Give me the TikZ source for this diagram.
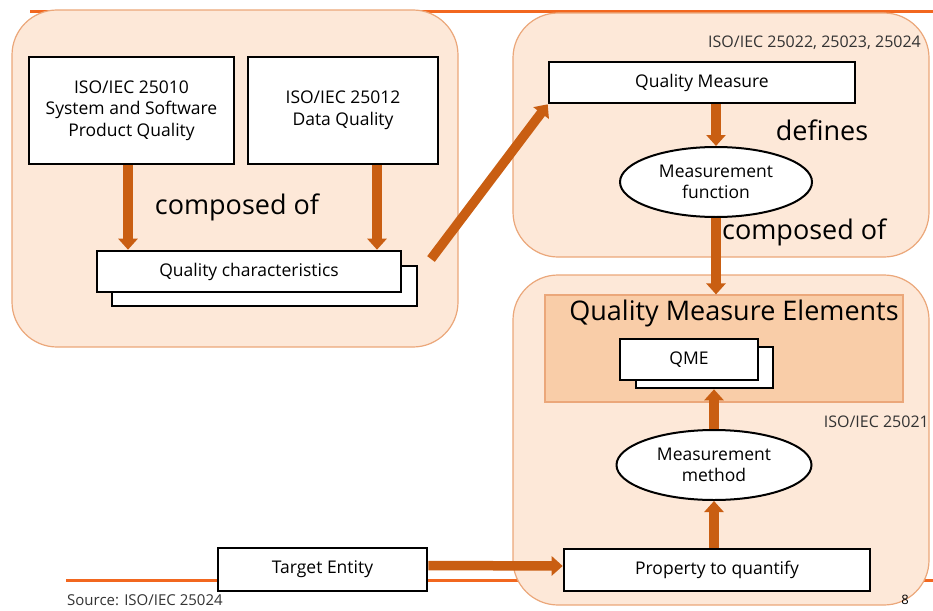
\documentclass[tikz,border=0pt]{standalone}
\usepackage{fontspec}
\setmainfont{Open Sans}
\usetikzlibrary{arrows.meta,shapes.geometric,calc}
\definecolor{peach}{HTML}{FDE8D8}
\definecolor{peachedge}{HTML}{EBA77A}
\definecolor{qmefill}{HTML}{F9CDA8}
\definecolor{lineorange}{HTML}{F2671F}
\definecolor{arroworange}{HTML}{C95E12}
\tikzset{
  bigbox/.style={draw=peachedge, line width=1.2pt, fill=peach, rounded corners=45pt, inner sep=0pt},
  wbox/.style={draw=black, line width=2.6pt, fill=white, inner sep=0pt, align=center, font=\fontsize{17.5}{21.5}\selectfont},
  ell/.style={ellipse, draw=black, line width=2pt, fill=white, inner sep=0pt, align=center, font=\fontsize{17.5}{21}\selectfont},
  bigarrow/.style={draw=arroworange, line width=9.5pt, -{Triangle[width=19pt,length=11pt]}},
  lbl/.style={font=\fontsize{27}{30}\selectfont, inner sep=0pt},
  small/.style={font=\fontsize{16}{18}\selectfont, inner sep=0pt, text=black!80}
}
\begin{document}
\begin{tikzpicture}[x=1pt,y=-1pt]
\useasboundingbox (0,0) rectangle (933,610);
% orange rule lines
\draw[lineorange, line width=3pt] (30,12) -- (933,12);
\draw[lineorange, line width=3pt] (66,580) -- (933,580);
% big rounded panels
\node[bigbox, minimum width=446pt, minimum height=337pt] (left) at (235,178.5) {};
\node[bigbox, minimum width=416pt, minimum height=244pt] (topr) at (721,135) {};
\node[bigbox, minimum width=416pt, minimum height=330pt] (botr) at (721,440) {};
\node[draw=peachedge, line width=1.2pt, fill=qmefill, minimum width=358pt, minimum height=107pt, inner sep=0pt] (qmearea) at (724,348.5) {};
% left panel
\node[wbox, minimum width=205pt, minimum height=107pt] (b25010) at (131.5,110.5) {ISO/IEC 25010\\System and Software\\Product Quality};
\node[wbox, minimum width=190pt, minimum height=107pt] (b25012) at (343,110.5) {ISO/IEC 25012\\Data Quality};
\node[wbox, minimum width=305pt, minimum height=40pt] (qcback) at (264.5,286) {};
\node[wbox, minimum width=304pt, minimum height=41pt] (qc) at (249,271.5) {Quality characteristics};
\node[lbl] (comp1) at (237,207) {composed of};
% top right panel
\node[small, anchor=east] (iso1) at (921,43) {ISO/IEC 25022, 25023, 25024};
\node[wbox, minimum width=306pt, minimum height=41pt] (qm) at (702,82.5) {Quality Measure};
\node[lbl] (defs) at (822,130) {defines};
\node[ell, minimum width=192pt, minimum height=70pt] (mf) at (716,182) {Measurement\\function};
\node[lbl, anchor=west] (comp2) at (722,232) {composed of};
% bottom right panel
\node[font=\fontsize{27}{30}\selectfont, inner sep=0pt] (qmet) at (734,313) {Quality Measure Elements};
\node[wbox, minimum width=137pt, minimum height=41pt] (qmeback) at (704.5,367.5) {};
\node[wbox, minimum width=138pt, minimum height=41pt] (qme) at (689,359.5) {QME};
\node[small, anchor=east] (iso2) at (929,422) {ISO/IEC 25021};
\node[ell, minimum width=195pt, minimum height=70pt] (mm) at (714,465) {Measurement\\method};
\node[wbox, minimum width=306pt, minimum height=42pt] (pq) at (717,570) {Property to quantify};
\node[wbox, minimum width=209pt, minimum height=43pt] (te) at (322.5,569.5) {Target Entity};
% footer
\node[small, anchor=west, font=\fontsize{15}{17}\selectfont] (src) at (67,600) {Source: ISO/IEC 25024};
\node[font=\fontsize{13}{14}\selectfont\rmfamily, inner sep=0pt] (pg) at (905,600) {8};
% arrows
\coordinate (d0) at (431,259);
\draw[bigarrow] ([xshift=-3.5pt]b25010.south) -- ([xshift=-3.5pt]b25010.south |- qc.north);
\draw[bigarrow] ([xshift=34pt]b25012.south) -- ([xshift=34pt]b25012.south |- qc.north);
\draw[bigarrow] (d0) -- (qm.south west);
\draw[bigarrow] (qm.south -| mf.north) -- (mf.north);
\draw[bigarrow] (mf.south) -- (mf.south |- qmearea.north);
\draw[bigarrow] (mm.north) -- (mm.north |- qmeback.south);
\draw[bigarrow] (pq.north -| mm.south) -- (mm.south);
\draw[bigarrow] ([yshift=4pt]te.east) -- ([yshift=4pt]pq.west);
\end{tikzpicture}
\end{document}
